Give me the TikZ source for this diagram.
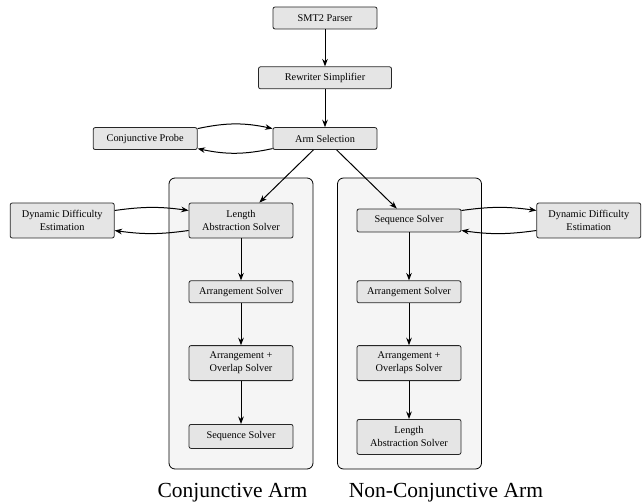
\documentclass[tikz,border=0pt]{standalone}
\usepackage{fontspec}
\setmainfont{Liberation Serif}
\usetikzlibrary{positioning, arrows.meta}

\begin{document}
\begin{tikzpicture}[
        x=1pt, y=-1pt,
        node distance=37pt and 75pt,
        box/.style={rectangle, rounded corners=2pt, draw=black!85, line width=0.8pt, fill=gray!20, minimum width=104pt, minimum height=22pt, align=center, font=\fontsize{10.3}{13}\selectfont},
        tallbox/.style={box, minimum height=35pt},
        armbox/.style={rectangle, rounded corners=6pt, draw=black, line width=0.8pt, fill=gray!8, minimum width=144pt, minimum height=291pt},
        caption/.style={inner sep=0pt, font=\fontsize{21.5}{25}\selectfont},
        arrow/.style={-Stealth, line width=1pt}
    ]
        \useasboundingbox (0,0) rectangle (644,502);

        % Arm containers
        \node (conjArm) [armbox] at (241,323.5) {};
        \node (nonConjArm) [armbox] at (409.5,323.5) {};
        \node (conjLabel) [caption, below=14pt of conjArm, xshift=-8.5pt] {Conjunctive Arm};
        \node (nonConjLabel) [caption, below=14pt of nonConjArm, xshift=36.5pt] {Non-Conjunctive Arm};

        % Nodes
        \node (parser) [box] at (325,18) {SMT2 Parser};
        \node (rewriter) [box, below=of parser, minimum width=133pt] {Rewriter Simplifier};
        \node (armSel) [box, below=38pt of rewriter] {Arm Selection};
        \node (probe) [box, left=of armSel] {Conjunctive Probe};

        % Conjunctive arm
        \node (lenL) [tallbox] at (241,220.5) {Length\\Abstraction Solver};
        \node (arrL) [box, below=42pt of lenL] {Arrangement Solver};
        \node (ovlL) [tallbox, below=42pt of arrL] {Arrangement +\\Overlap Solver};
        \node (seqL) [box, below=43pt of ovlL, minimum height=24pt] {Sequence Solver};
        \node (dynL) [tallbox, left=74pt of lenL] {Dynamic Difficulty\\Estimation};

        % Non-conjunctive arm
        \node (seqR) [box, minimum height=23pt] at (409,220.5) {Sequence Solver};
        \node (arrR) [box, below=48pt of seqR] {Arrangement Solver};
        \node (ovlR) [tallbox, below=42pt of arrR] {Arrangement +\\Overlaps Solver};
        \node (lenR) [tallbox, below=38pt of ovlR] {Length\\Abstraction Solver};
        \node (dynR) [tallbox, right=of seqR] {Dynamic Difficulty\\Estimation};

        % Arrows
        \draw [arrow] (parser) -- (rewriter);
        \draw [arrow] (rewriter) -- (armSel);
        \draw [arrow] ([yshift=10pt]probe.east) to [bend left=12] ([yshift=10pt]armSel.west);
        \draw [arrow] ([yshift=-10pt]armSel.west) to [bend left=12] ([yshift=-10pt]probe.east);
        \draw [arrow] (armSel) -- (lenL);
        \draw [arrow] (armSel) -- (seqR);

        \draw [arrow] (lenL) -- (arrL);
        \draw [arrow] (arrL) -- (ovlL);
        \draw [arrow] (ovlL) -- (seqL);
        \draw [arrow] ([yshift=10pt]dynL.east) to [bend left=8] ([yshift=10pt]lenL.west);
        \draw [arrow] ([yshift=-10pt]lenL.west) to [bend left=8] ([yshift=-10pt]dynL.east);

        \draw [arrow] (seqR) -- (arrR);
        \draw [arrow] (arrR) -- (ovlR);
        \draw [arrow] (ovlR) -- (lenR);
        \draw [arrow] ([yshift=10pt]seqR.east) to [bend left=8] ([yshift=10pt]dynR.west);
        \draw [arrow] ([yshift=-10pt]dynR.west) to [bend left=8] ([yshift=-10pt]seqR.east);
    \end{tikzpicture}
\end{document}
